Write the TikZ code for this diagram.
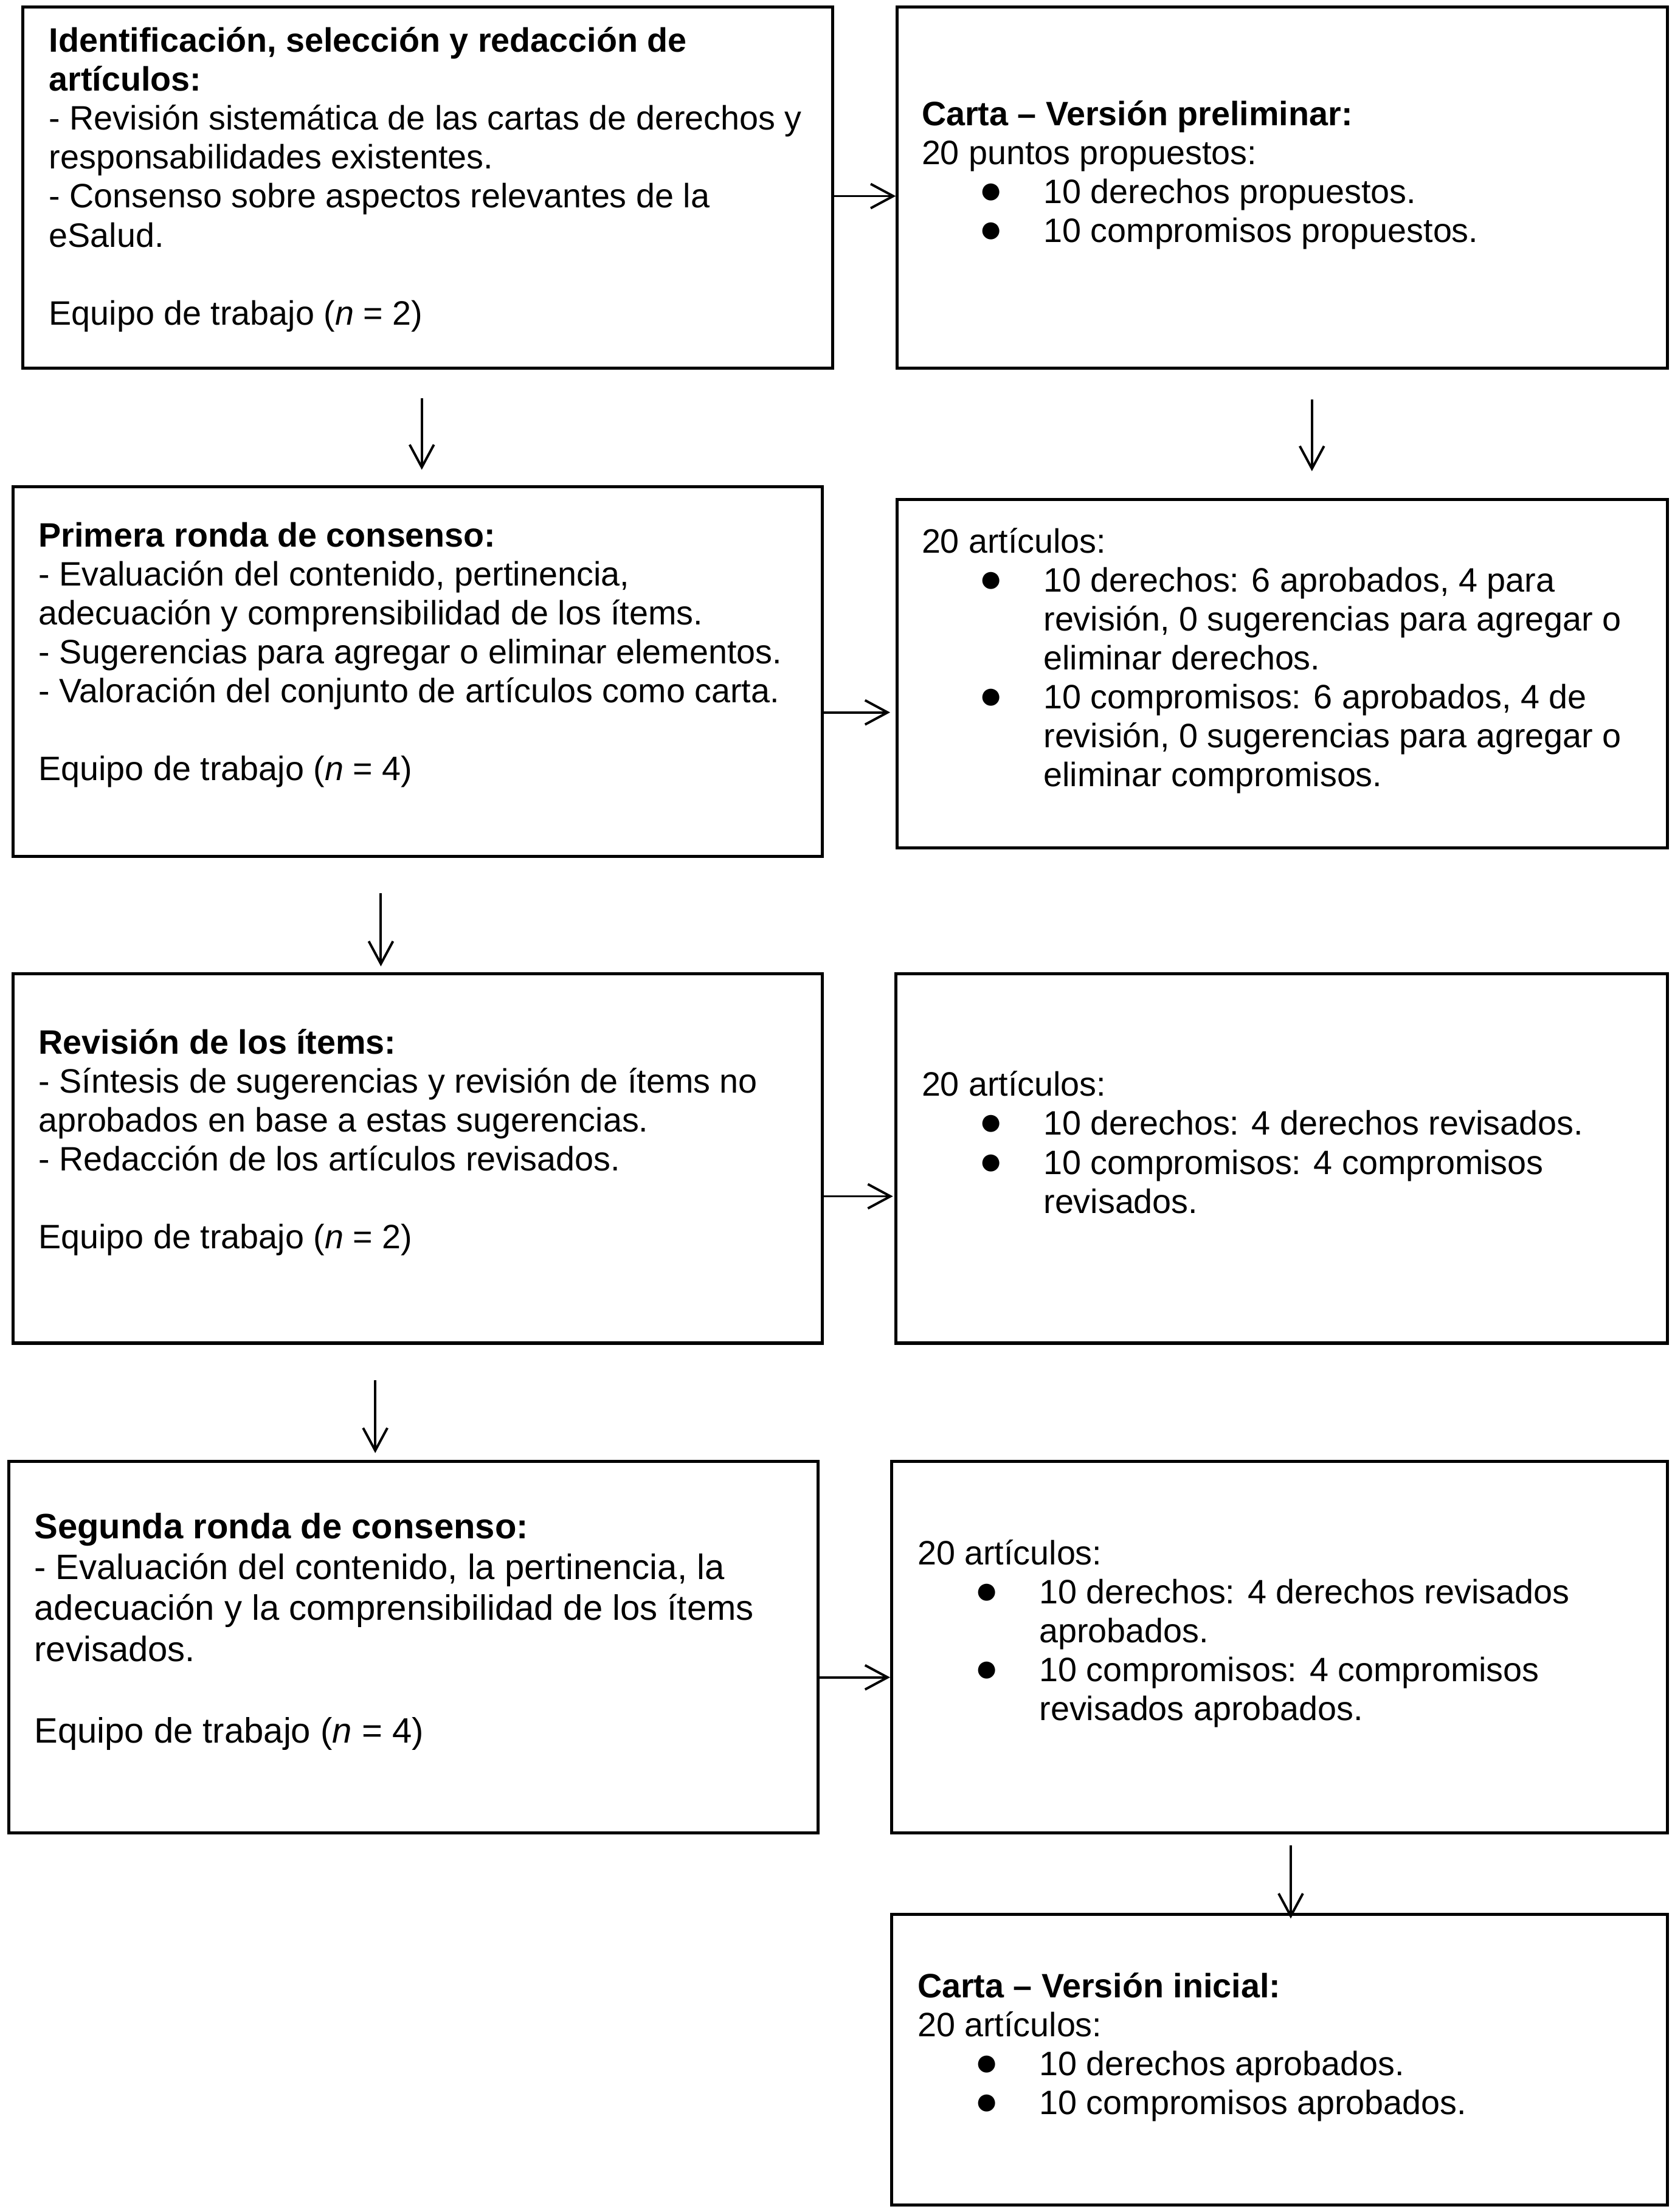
\documentclass[tikz,border=0pt]{standalone}
\usepackage{fontspec}
\setmainfont{Liberation Sans}
\usepackage{tikz}
\usetikzlibrary{positioning,arrows.meta}

\newcommand{\bul}{\hspace*{20.3pt}\makebox[22.9pt][l]{\raisebox{0pt}{\fontsize{14}{14}\selectfont ●}}}
\newcommand{\ind}{\hspace*{43.2pt}}

\begin{document}
\begin{tikzpicture}[x=0.5pt, y=-0.5pt,
  box/.style={draw, line width=1.1pt, anchor=north west, inner sep=0pt},
  txt/.style={anchor=north west, inner sep=0pt, align=left,
    font=\fontsize{12}{13.8}\selectfont, execute at begin node=\rule{0pt}{11pt}},
  arr/.style={line width=0.85pt, -{Straight Barb[length=8pt, width=8.6pt]}}]
\useasboundingbox (0,0) rectangle (1185,1568);

% left column
\node[box, minimum width=287pt, minimum height=128pt] (ident) at (15,4) {};
\node[box, minimum width=287pt, minimum height=131pt] (ronda1) at (8,344) {};
\node[box, minimum width=287pt, minimum height=131pt] (revis) at (8,689) {};
\node[box, minimum width=287pt, minimum height=131.5pt] (ronda2) at (5,1035) {};
% right column
\node[box, minimum width=273pt, minimum height=128pt] (prelim) at (635,4) {};
\node[box, minimum width=273pt, minimum height=123.5pt] (res1) at (635,353) {};
\node[box, minimum width=273.5pt, minimum height=131pt] (res2) at (634,689) {};
\node[box, minimum width=275pt, minimum height=131.5pt] (res3) at (631,1035) {};
\node[box, minimum width=275pt, minimum height=103pt] (inicial) at (631,1356) {};

\node[txt, below right=7.5pt and 9.7pt of ident.north west] (ident-t) {%
\textbf{Identificación, selección y redacción de}\\
\textbf{artículos:}\\
- Revisión sistemática de las cartas de derechos y\\
responsabilidades existentes.\\
- Consenso sobre aspectos relevantes de la\\
eSalud.\\[13.8pt]
Equipo de trabajo (\textit{n} = 2)};

\node[txt, below right=33.5pt and 9pt of prelim.north west] (prelim-t) {%
\textbf{Carta – Versión preliminar:}\\
20 puntos propuestos:\\
\bul 10 derechos propuestos.\\
\bul 10 compromisos propuestos.};

\node[txt, below right=13pt and 9.5pt of ronda1.north west] (ronda1-t) {%
\textbf{Primera ronda de consenso:}\\
- Evaluación del contenido, pertinencia,\\
adecuación y comprensibilidad de los ítems.\\
- Sugerencias para agregar o eliminar elementos.\\
- Valoración del conjunto de artículos como carta.\\[13.8pt]
Equipo de trabajo (\textit{n} = 4)};

\node[txt, below right=10.5pt and 9pt of res1.north west] (res1-t) {%
20 artículos:\\
\bul 10 derechos: 6 aprobados, 4 para\\
\ind revisión, 0 sugerencias para agregar o\\
\ind eliminar derechos.\\
\bul 10 compromisos: 6 aprobados, 4 de\\
\ind revisión, 0 sugerencias para agregar o\\
\ind eliminar compromisos.};

\node[txt, below right=20pt and 9.5pt of revis.north west] (revis-t) {%
\textbf{Revisión de los ítems:}\\
- Síntesis de sugerencias y revisión de ítems no\\
aprobados en base a estas sugerencias.\\
- Redacción de los artículos revisados.\\[13.8pt]
Equipo de trabajo (\textit{n} = 2)};

\node[txt, below right=35pt and 9.5pt of res2.north west] (res2-t) {%
20 artículos:\\
\bul 10 derechos: 4 derechos revisados.\\
\bul 10 compromisos: 4 compromisos\\
\ind revisados.};

\node[txt, font=\fontsize{12.5}{14.5}\selectfont,
  below right=18.5pt and 9.5pt of ronda2.north west] (ronda2-t) {%
\textbf{Segunda ronda de consenso:}\\
- Evaluación del contenido, la pertinencia, la\\
adecuación y la comprensibilidad de los ítems\\
revisados.\\[14.5pt]
Equipo de trabajo (\textit{n} = 4)};

\node[txt, below right=28pt and 9.5pt of res3.north west] (res3-t) {%
20 artículos:\\
\bul 10 derechos: 4 derechos revisados\\
\ind aprobados.\\
\bul 10 compromisos: 4 compromisos\\
\ind revisados aprobados.};

\node[txt, below right=21pt and 9.5pt of inicial.north west] (inicial-t) {%
\textbf{Carta – Versión inicial:}\\
20 artículos:\\
\bul 10 derechos aprobados.\\
\bul 10 compromisos aprobados.};

% arrows
\draw[arr] (ident.east |- 0,139) -- (prelim.west |- 0,139);
\draw[arr, shorten >=2pt] (ronda1.east |- 0,505) -- (res1.west |- 0,505);
\draw[arr, shorten >=0.5pt] (revis.east |- 0,848) -- (res2.west |- 0,848);
\draw[arr] (ronda2.east |- 0,1189) -- (res3.west |- 0,1189);
\draw[arr, shorten <=10pt, shorten >=5.5pt] (ident.south -| 299,0) -- (ronda1.north -| 299,0);
\draw[arr, shorten <=12.5pt, shorten >=2pt] (ronda1.south -| 270,0) -- (revis.north -| 270,0);
\draw[arr, shorten <=12.5pt, shorten >=2.5pt] (revis.south -| 266,0) -- (ronda2.north -| 266,0);
\draw[arr, shorten <=10.5pt, shorten >=9.5pt] (prelim.south -| 930,0) -- (res1.north -| 930,0);
\draw[arr, shorten <=4pt, shorten >=-2pt] (res3.south -| 915,0) -- (inicial.north -| 915,0);
\end{tikzpicture}
\end{document}
